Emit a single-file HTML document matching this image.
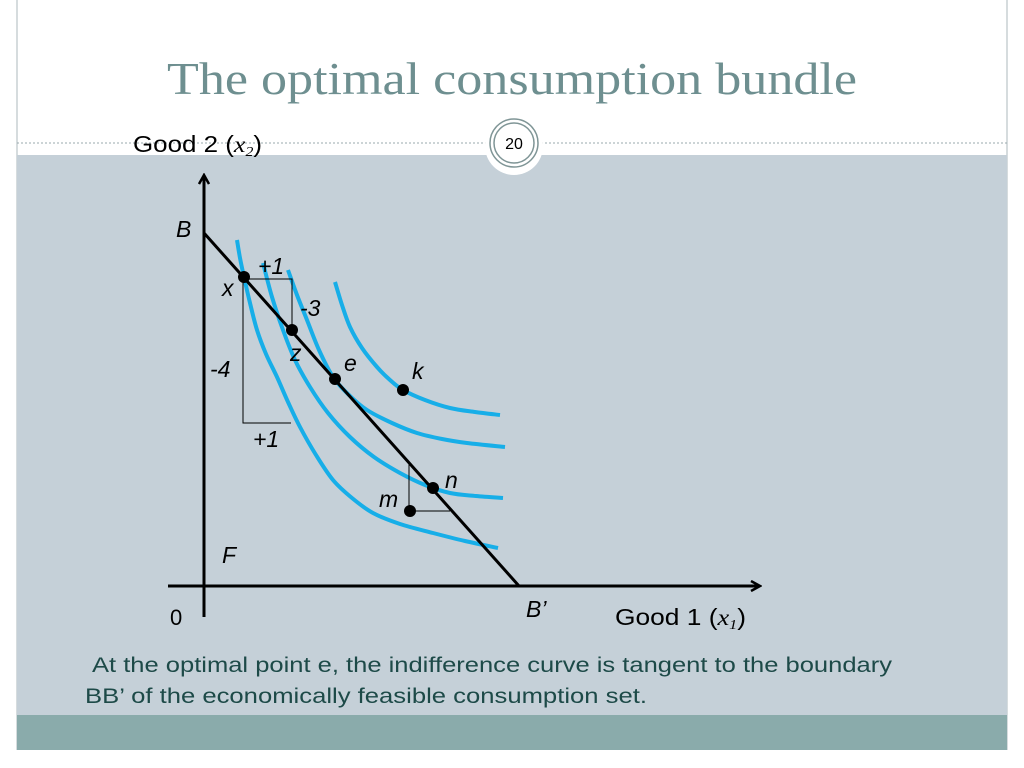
<!DOCTYPE html>
<html><head><meta charset="utf-8"><style>
html,body{margin:0;padding:0;background:#fff;}
svg{display:block;font-family:"Liberation Sans",sans-serif;}
</style></head><body>
<svg id="chart" width="1024" height="768" viewBox="0 0 1024 768">
<rect x="17" y="0" width="990" height="155" fill="#ffffff"/>
<line x1="17" y1="0" x2="17" y2="750" stroke="#c8d0d4" stroke-width="1.5"/>
<line x1="1007" y1="0" x2="1007" y2="750" stroke="#c8d0d4" stroke-width="1.5"/>
<rect x="17" y="155" width="990" height="560" fill="#c5d0d8"/>
<rect x="17" y="715" width="990" height="35" fill="#8aabab"/>
<text x="512" y="94" text-anchor="middle" font-family="Liberation Serif,serif" font-size="46" fill="#6e8f90" textLength="690" lengthAdjust="spacingAndGlyphs">The optimal consumption bundle</text>
<line x1="17" y1="143" x2="1007" y2="143" stroke="#9aa8ac" stroke-width="1" stroke-dasharray="2,2"/>
<circle cx="514" cy="146" r="29" fill="#fff"/>
<circle cx="514" cy="143" r="24" fill="#fff" stroke="#7f9596" stroke-width="1.5"/>
<circle cx="514" cy="143" r="20" fill="none" stroke="#7f9596" stroke-width="1.5"/>
<text x="514" y="149" text-anchor="middle" font-size="16" fill="#000">20</text>
<g id="plot"></g>
<text x="133" y="152" font-size="23" fill="#000" textLength="129" lengthAdjust="spacingAndGlyphs">Good 2 (<tspan font-family="Liberation Serif,serif" font-style="italic">x</tspan><tspan font-family="Liberation Serif,serif" font-style="italic" font-size="14" dy="4">2</tspan><tspan dy="-4">)</tspan></text>
<text x="615" y="625" font-size="23" fill="#000" textLength="131" lengthAdjust="spacingAndGlyphs">Good 1 (<tspan font-family="Liberation Serif,serif" font-style="italic">x</tspan><tspan font-family="Liberation Serif,serif" font-style="italic" font-size="14" dy="4">1</tspan><tspan dy="-4">)</tspan></text>
<text x="92" y="672" font-size="21" fill="#1d4a48" textLength="800" lengthAdjust="spacingAndGlyphs">At the optimal point e, the indifference curve is tangent to the boundary</text>
<text x="85" y="703" font-size="21" fill="#1d4a48" textLength="562" lengthAdjust="spacingAndGlyphs">BB’ of the economically feasible consumption set.</text>
</svg>
<script>
// data units: origin at axes intersection, 1 unit = 10 px
const curve1 = [[3.3,34.6],[3.6,32.8],[4.0,30.9],[4.6,28.3],[5.3,25.6],[6.2,23.2],[7.3,20.9],[8.4,18.4],[9.6,15.9],[11.2,13.1],[12.9,10.6],[14.8,8.8],[16.9,7.3],[19.6,6.2],[22.9,5.3],[26.1,4.5],[29.4,3.8]];
const curve2 = [[5.9,32.3],[6.8,28.9],[7.9,25.6],[9.1,22.6],[10.6,19.9],[12.4,17.3],[14.6,14.9],[17.0,12.9],[19.6,11.3],[22.1,10.1],[24.6,9.3],[27.2,9.0],[29.9,8.8]];
const curve3 = [[8.4,31.6],[9.3,29.1],[10.3,26.6],[11.5,23.6],[12.9,20.9],[14.5,19.1],[16.3,17.6],[18.8,16.3],[21.3,15.3],[23.8,14.7],[26.3,14.3],[30.1,13.9]];
const curve4 = [[13.1,30.4],[13.8,28.1],[14.6,25.9],[15.8,23.8],[17.3,21.9],[18.6,20.6],[19.9,19.6],[22.1,18.6],[24.6,17.8],[27.1,17.4],[29.6,17.1]];
const budgetLine = [[0,35.3],[31.5,0]];
const pointNames = ['x','z','e','k','n','m'];
const pointX = [4.0,8.8,13.1,19.9,22.9,20.6];
const pointY = [30.9,25.6,20.7,19.6,9.8,7.5];
const xAxisRange = [-3.6,55.6];
const yAxisRange = [-3.1,41.1];

const ox=204, oy=586, u=10;
const sx=v=>ox+v*u, sy=v=>oy-v*u;
const NS='http://www.w3.org/2000/svg';
const g=document.getElementById('plot');
function mk(tag,attrs){const e=document.createElementNS(NS,tag);for(const k in attrs)e.setAttribute(k,attrs[k]);g.appendChild(e);return e;}

const defs=document.createElementNS(NS,'defs');
defs.innerHTML='<marker id="arr" markerWidth="12" markerHeight="12" refX="10" refY="6" orient="auto" markerUnits="userSpaceOnUse"><path d="M1,1 L10,6 L1,11" fill="none" stroke="#000" stroke-width="2.5"/></marker>';
document.getElementById('chart').insertBefore(defs,g);

function smooth(pts){
  const p=pts.map(q=>[sx(q[0]),sy(q[1])]);
  let d='M'+p[0][0]+','+p[0][1];
  for(let i=0;i<p.length-1;i++){
    const p0=p[i-1]||p[i],p1=p[i],p2=p[i+1],p3=p[i+2]||p2;
    const c1=[p1[0]+(p2[0]-p0[0])/6,p1[1]+(p2[1]-p0[1])/6];
    const c2=[p2[0]-(p3[0]-p1[0])/6,p2[1]-(p3[1]-p1[1])/6];
    d+=' C'+c1+' '+c2+' '+p2;
  }
  return d;
}
[curve1,curve2,curve3,curve4].forEach((c,i)=>{
  const e=mk('path',{d:smooth(c),fill:'none',stroke:'#17aee8','stroke-width':4});
  
  
});
let ax=mk('line',{x1:sx(0),y1:sy(yAxisRange[0]),x2:sx(0),y2:sy(yAxisRange[1]),stroke:'#000','stroke-width':3,'marker-end':'url(#arr)'});


ax=mk('line',{x1:sx(xAxisRange[0]),y1:sy(0),x2:sx(xAxisRange[1]),y2:sy(0),stroke:'#000','stroke-width':3,'marker-end':'url(#arr)'});


const bl=mk('line',{x1:sx(budgetLine[0][0]),y1:sy(budgetLine[0][1]),x2:sx(budgetLine[1][0]),y2:sy(budgetLine[1][1]),stroke:'#000','stroke-width':3});


const P=n=>{const i=pointNames.indexOf(n);return [sx(pointX[i]),sy(pointY[i])];};
const px=P('x'),pz=P('z'),pn=P('n'),pm=P('m');
let t=mk('polyline',{points:`${px[0]},${px[1]+2} ${pz[0]},${px[1]+2} ${pz[0]},${pz[1]}`,fill:'none',stroke:'#000','stroke-width':1});


t=mk('polyline',{points:`${px[0]-1},${px[1]} ${px[0]-1},${sy(16.3)} ${sx(8.7)},${sy(16.3)}`,fill:'none',stroke:'#000','stroke-width':1});


t=mk('polyline',{points:`${pm[0]-1},${sy(12.3)} ${pm[0]-1},${pm[1]} ${sx(24.6)},${pm[1]}`,fill:'none',stroke:'#000','stroke-width':1});


pointNames.forEach((n,i)=>{
  const c=mk('circle',{cx:sx(pointX[i]),cy:sy(pointY[i]),r:6,fill:'#000'});
  
  
});
const labels=[['B',176,237,'label-b'],['x',222,296,'label-x'],['+1',258,274,'label-plus1-top'],['-3',300,316,'label-minus3'],['z',290,361,'label-z'],['e',344,371,'label-e'],['k',412,379,'label-k'],['-4',210,377,'label-minus4'],['+1',253,447,'label-plus1-bottom'],['n',445,488,'label-n'],['m',379,507,'label-m'],['F',222,563,'label-f'],['B’',526,617,'label-b-prime']];
labels.forEach(l=>{
  const e=mk('text',{x:l[1],y:l[2],'font-size':23,'font-style':'italic',fill:'#000'});
  e.textContent=l[0];
  
  
});
const z=mk('text',{x:170,y:625,'font-size':22,fill:'#000'});
z.textContent='0';


</script>
</body></html>
